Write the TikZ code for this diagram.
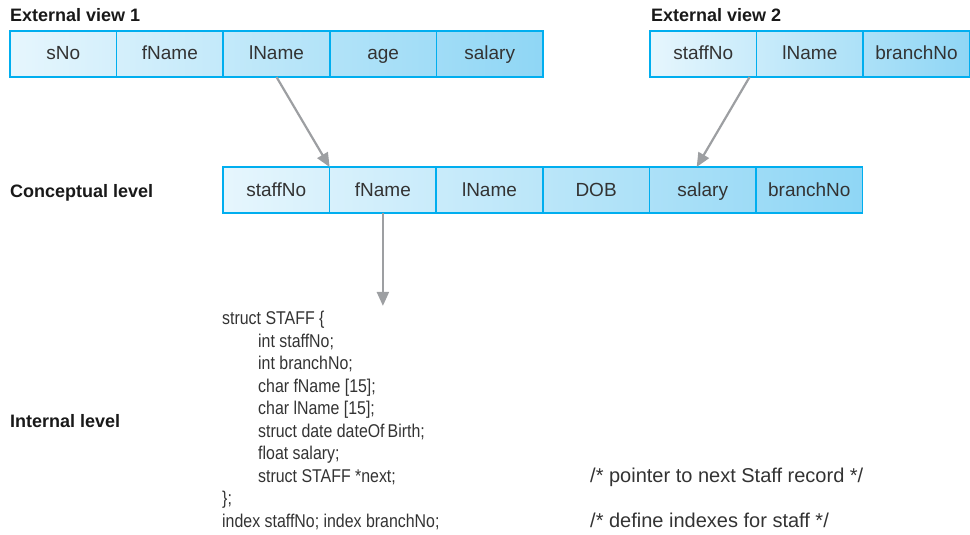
\documentclass[tikz,border=0pt]{standalone}
\usepackage{fontspec}
\setmainfont{Liberation Sans}
\newfontfamily\codefont[FakeStretch=0.86]{Liberation Sans}
\usetikzlibrary{arrows.meta,positioning,backgrounds}

\definecolor{cellborder}{HTML}{00AEEF}
\definecolor{cellleft}{HTML}{E6F6FD}
\definecolor{cellright}{HTML}{8FD6F5}
\definecolor{arrowgray}{HTML}{9D9FA2}
\definecolor{textgray}{HTML}{333333}

\newcommand{\cmt}[1]{{\normalfont\fontsize{20}{22.5}\selectfont #1}}

\tikzset{
    cell/.style={draw=cellborder, line width=1.6pt, minimum width=106.6pt, minimum height=46pt,
        inner sep=0pt, outer sep=0pt, text height=15pt, text depth=3pt,
        text=textgray, font=\fontsize{19}{22}\selectfont},
    level/.style={anchor=base west, inner sep=0pt, text=black!90, font=\fontsize{18}{21}\selectfont\bfseries},
    link/.style={draw=arrowgray, line width=2.2pt, -{Triangle[length=14pt,width=12pt]}},
}

\begin{document}
\begin{tikzpicture}[x=1pt,y=-1pt]
    \useasboundingbox (0,0) rectangle (970,535);

    % level labels
    \node[level] (ev1) at (10,22) {External view 1};
    \node[level] (ev2) at (651,22) {External view 2};
    \node[level] (cl) at (10,197) {Conceptual level};
    \node[level] (il) at (10,427) {Internal level};

    % external view 1
    \node[cell, anchor=north west] (e1a) at (10,31) {sNo};
    \node[cell] (e1b) [right=0pt of e1a] {fName};
    \node[cell] (e1c) [right=0pt of e1b] {lName};
    \node[cell] (e1d) [right=0pt of e1c] {age};
    \node[cell] (e1e) [right=0pt of e1d] {salary};

    % external view 2
    \node[cell, anchor=north west] (e2a) at (650,31) {staffNo};
    \node[cell] (e2b) [right=0pt of e2a] {lName};
    \node[cell] (e2c) [right=0pt of e2b] {branchNo};

    % conceptual level
    \node[cell, anchor=north west] (c1) at (223,167) {staffNo};
    \node[cell] (c2) [right=0pt of c1] {fName};
    \node[cell] (c3) [right=0pt of c2] {lName};
    \node[cell] (c4) [right=0pt of c3] {DOB};
    \node[cell] (c5) [right=0pt of c4] {salary};
    \node[cell] (c6) [right=0pt of c5] {branchNo};

    \begin{scope}[on background layer]
        \shade[left color=cellleft, right color=cellright] (e1a.north west) rectangle (e1e.south east);
        \shade[left color=cellleft, right color=cellright] (e2a.north west) rectangle (e2c.south east);
        \shade[left color=cellleft, right color=cellright] (c1.north west) rectangle (c6.south east);
    \end{scope}

    % internal level (anchored on the last line)
    \node[anchor=base west, inner sep=0pt, align=left, text=textgray,
          font=\codefont\fontsize{18.5}{22.5}\selectfont] (code) at (222,527) {%
        struct STAFF \{\\
        \hspace*{36pt}int staffNo;\\
        \hspace*{36pt}int branchNo;\\
        \hspace*{36pt}char fName [15];\\
        \hspace*{36pt}char lName [15];\\
        \hspace*{36pt}struct date dateOf\,Birth;\\
        \hspace*{36pt}float salary;\\
        \makebox[368pt][l]{\hspace*{36pt}struct STAFF *next;}\cmt{/* pointer to next Staff record */}\\
        \};\\
        \makebox[368pt][l]{index staffNo; index branchNo;}\cmt{/* define indexes for staff */}};

    % mappings
    \draw[link] (e1c.south) -- (c2.north west);
    \draw[link] ([xshift=-7pt]e2a.south east) -- ([xshift=-6pt]c5.north);
    \draw[link, shorten >=5pt] (c2.south) -- (c2.south |- code.north);
\end{tikzpicture}
\end{document}
